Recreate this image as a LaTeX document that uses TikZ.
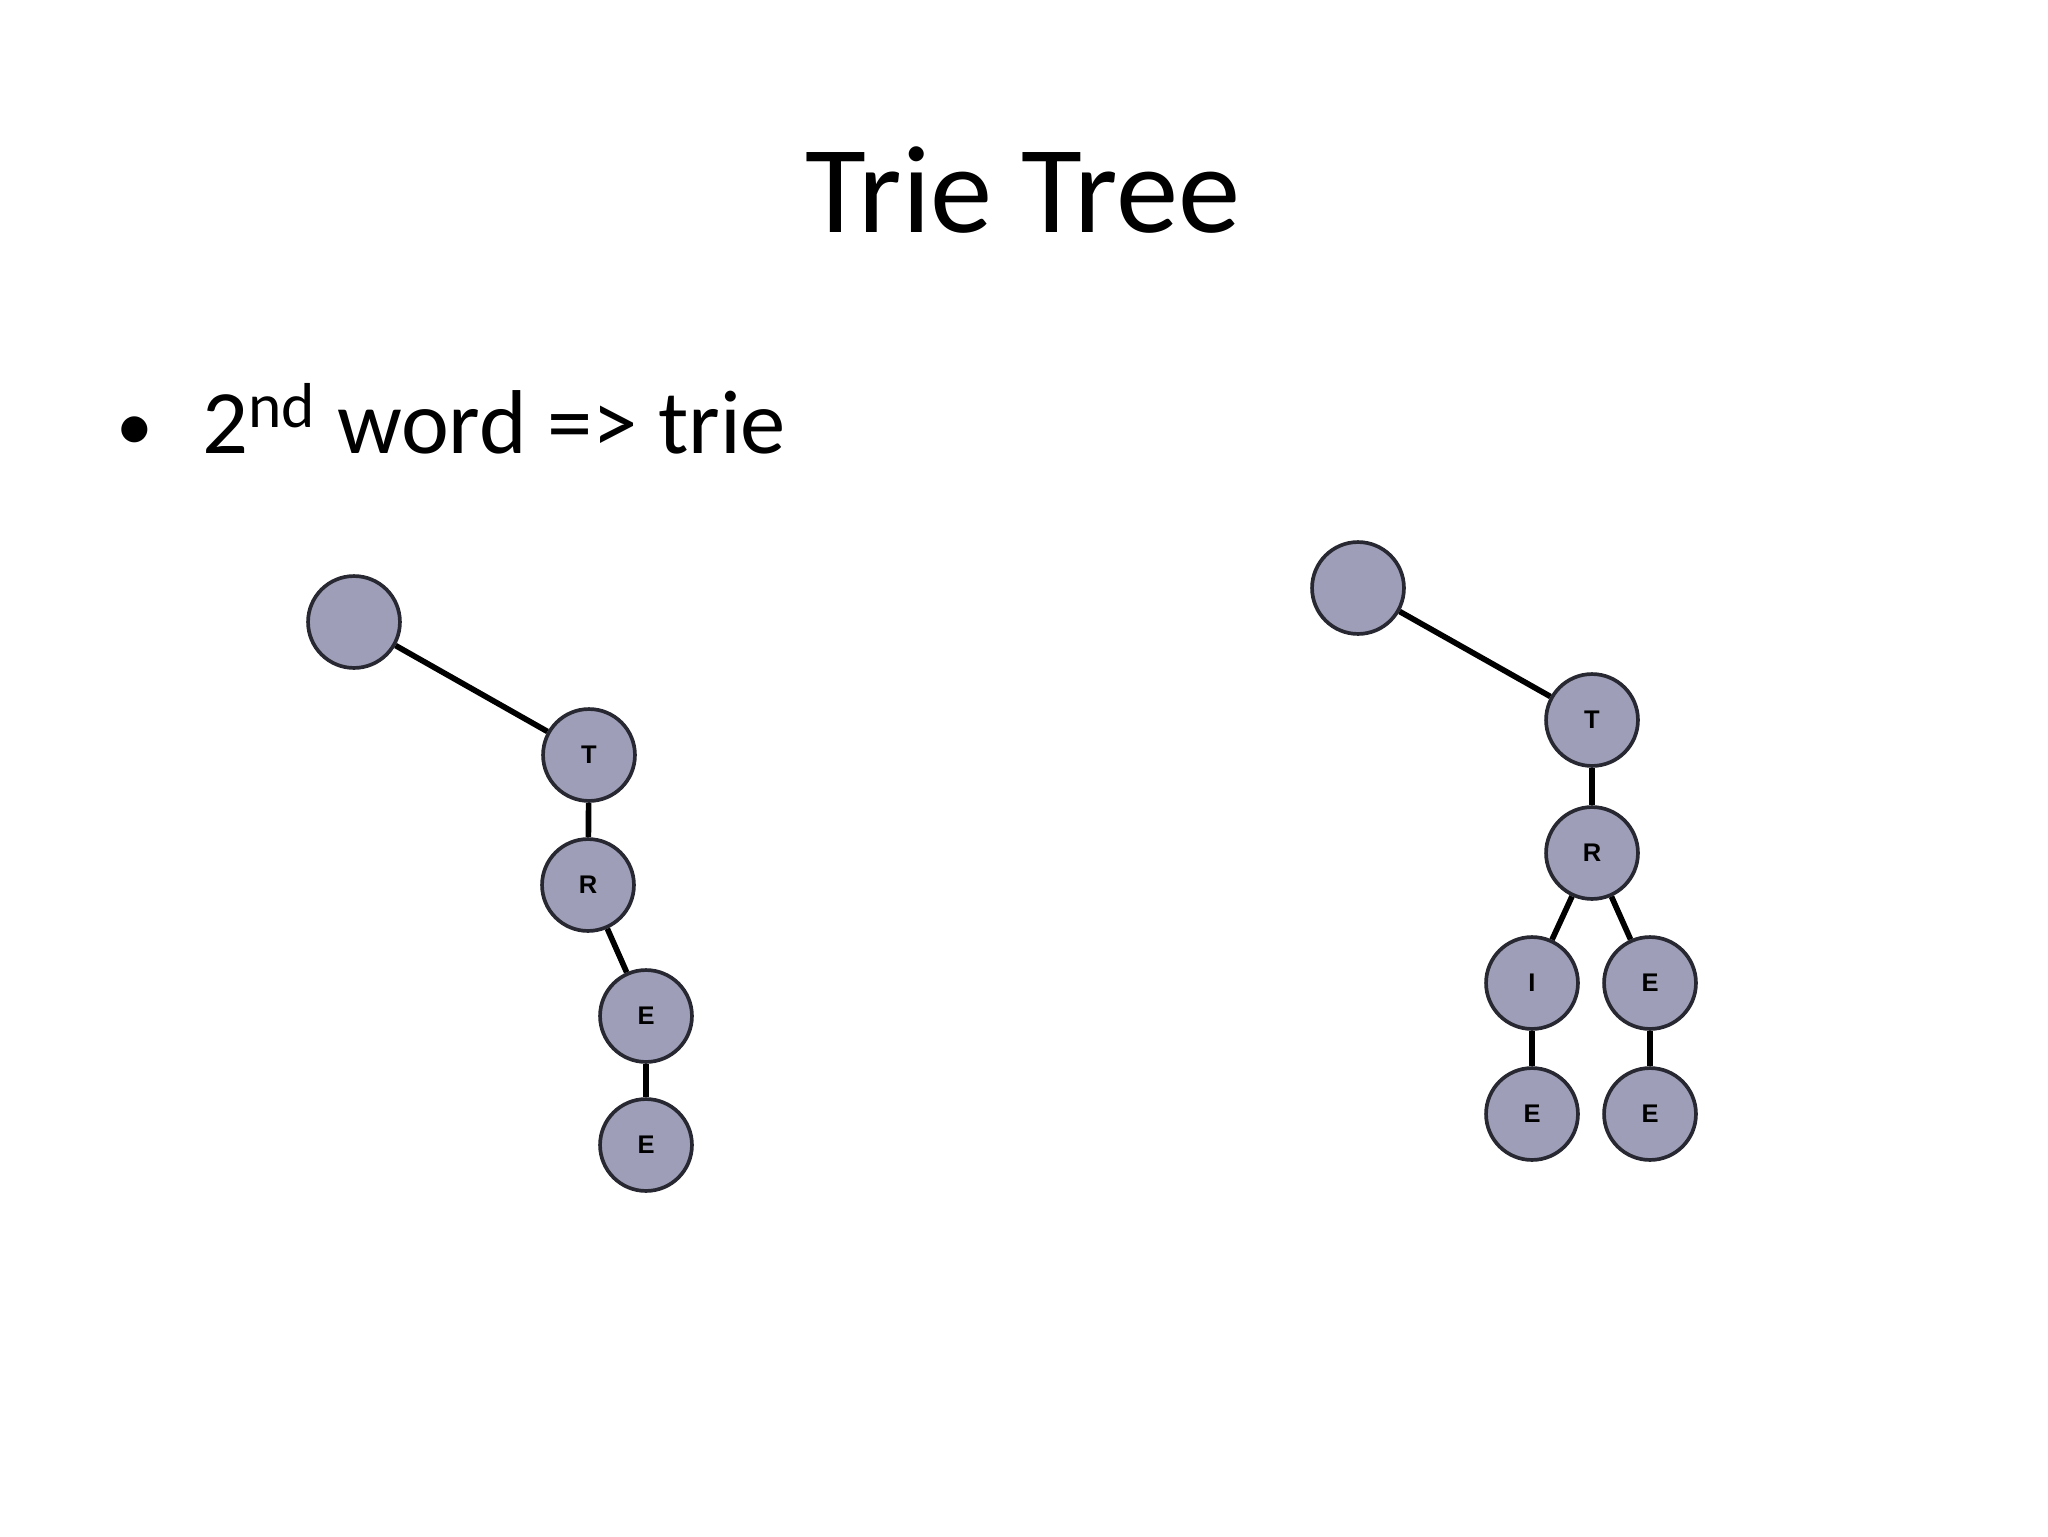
\documentclass[tikz,border=0pt]{standalone}
\usepackage{fontspec}
\setmainfont{Carlito}
\newfontfamily\lettfont{Liberation Sans}
\usepackage{tikz}
\usetikzlibrary{positioning}
\definecolor{nodegray}{RGB}{158,158,184}
\definecolor{rimgray}{RGB}{40,40,50}
\tikzstyle{nd}=[circle, draw=rimgray, fill=nodegray, line width=1.3pt,
		minimum size=1.14cm, inner sep=0, font=\lettfont\bfseries\fontsize{9}{10}\selectfont]
\tikzstyle{ed}=[draw=black, line width=2pt]

\begin{document}
\begin{tikzpicture}[x=0.0124cm, y=-0.0124cm]
            \useasboundingbox (0,0) rectangle (2048,1536);
            \node[anchor=base] (title) at (1023,232) {\fontsize{44}{52}\selectfont Trie Tree};
            \node[anchor=base] (dot) at (135,450) {\fontsize{26}{30}\selectfont •};
            \node[anchor=base west, inner sep=0] (point) at (202,453) {\fontsize{32}{38}\selectfont 2\textsuperscript{nd} word => trie};
            % first word
            \node[nd] (ra) at (354,622) {};
            \node[nd] (ta) at (589,755) {T};
            \node[nd] (rra) at (588,885) {R};
            \node[nd] (ea) at (646,1016) {E};
            \node[nd] (eea) at (646,1145) {E};
            \draw[ed] (ra) -- (ta);
            \draw[ed] (ta) -- (rra);
            \draw[ed] (rra) -- (ea);
            \draw[ed] (ea) -- (eea);
            % second word added
            \node[nd] (rb) at (1358,588) {};
            \node[nd] (tb) at (1592,720) {T};
            \node[nd] (rrb) at (1592,853) {R};
            \node[nd] (ib) at (1532,983) {I};
            \node[nd] (eb) at (1650,983) {E};
            \node[nd] (eib) at (1532,1114) {E};
            \node[nd] (eeb) at (1650,1114) {E};
            \draw[ed] (rb) -- (tb);
            \draw[ed] (tb) -- (rrb);
            \draw[ed] (rrb) -- (ib);
            \draw[ed] (rrb) -- (eb);
            \draw[ed] (ib) -- (eib);
            \draw[ed] (eb) -- (eeb);
        \end{tikzpicture}
\end{document}
